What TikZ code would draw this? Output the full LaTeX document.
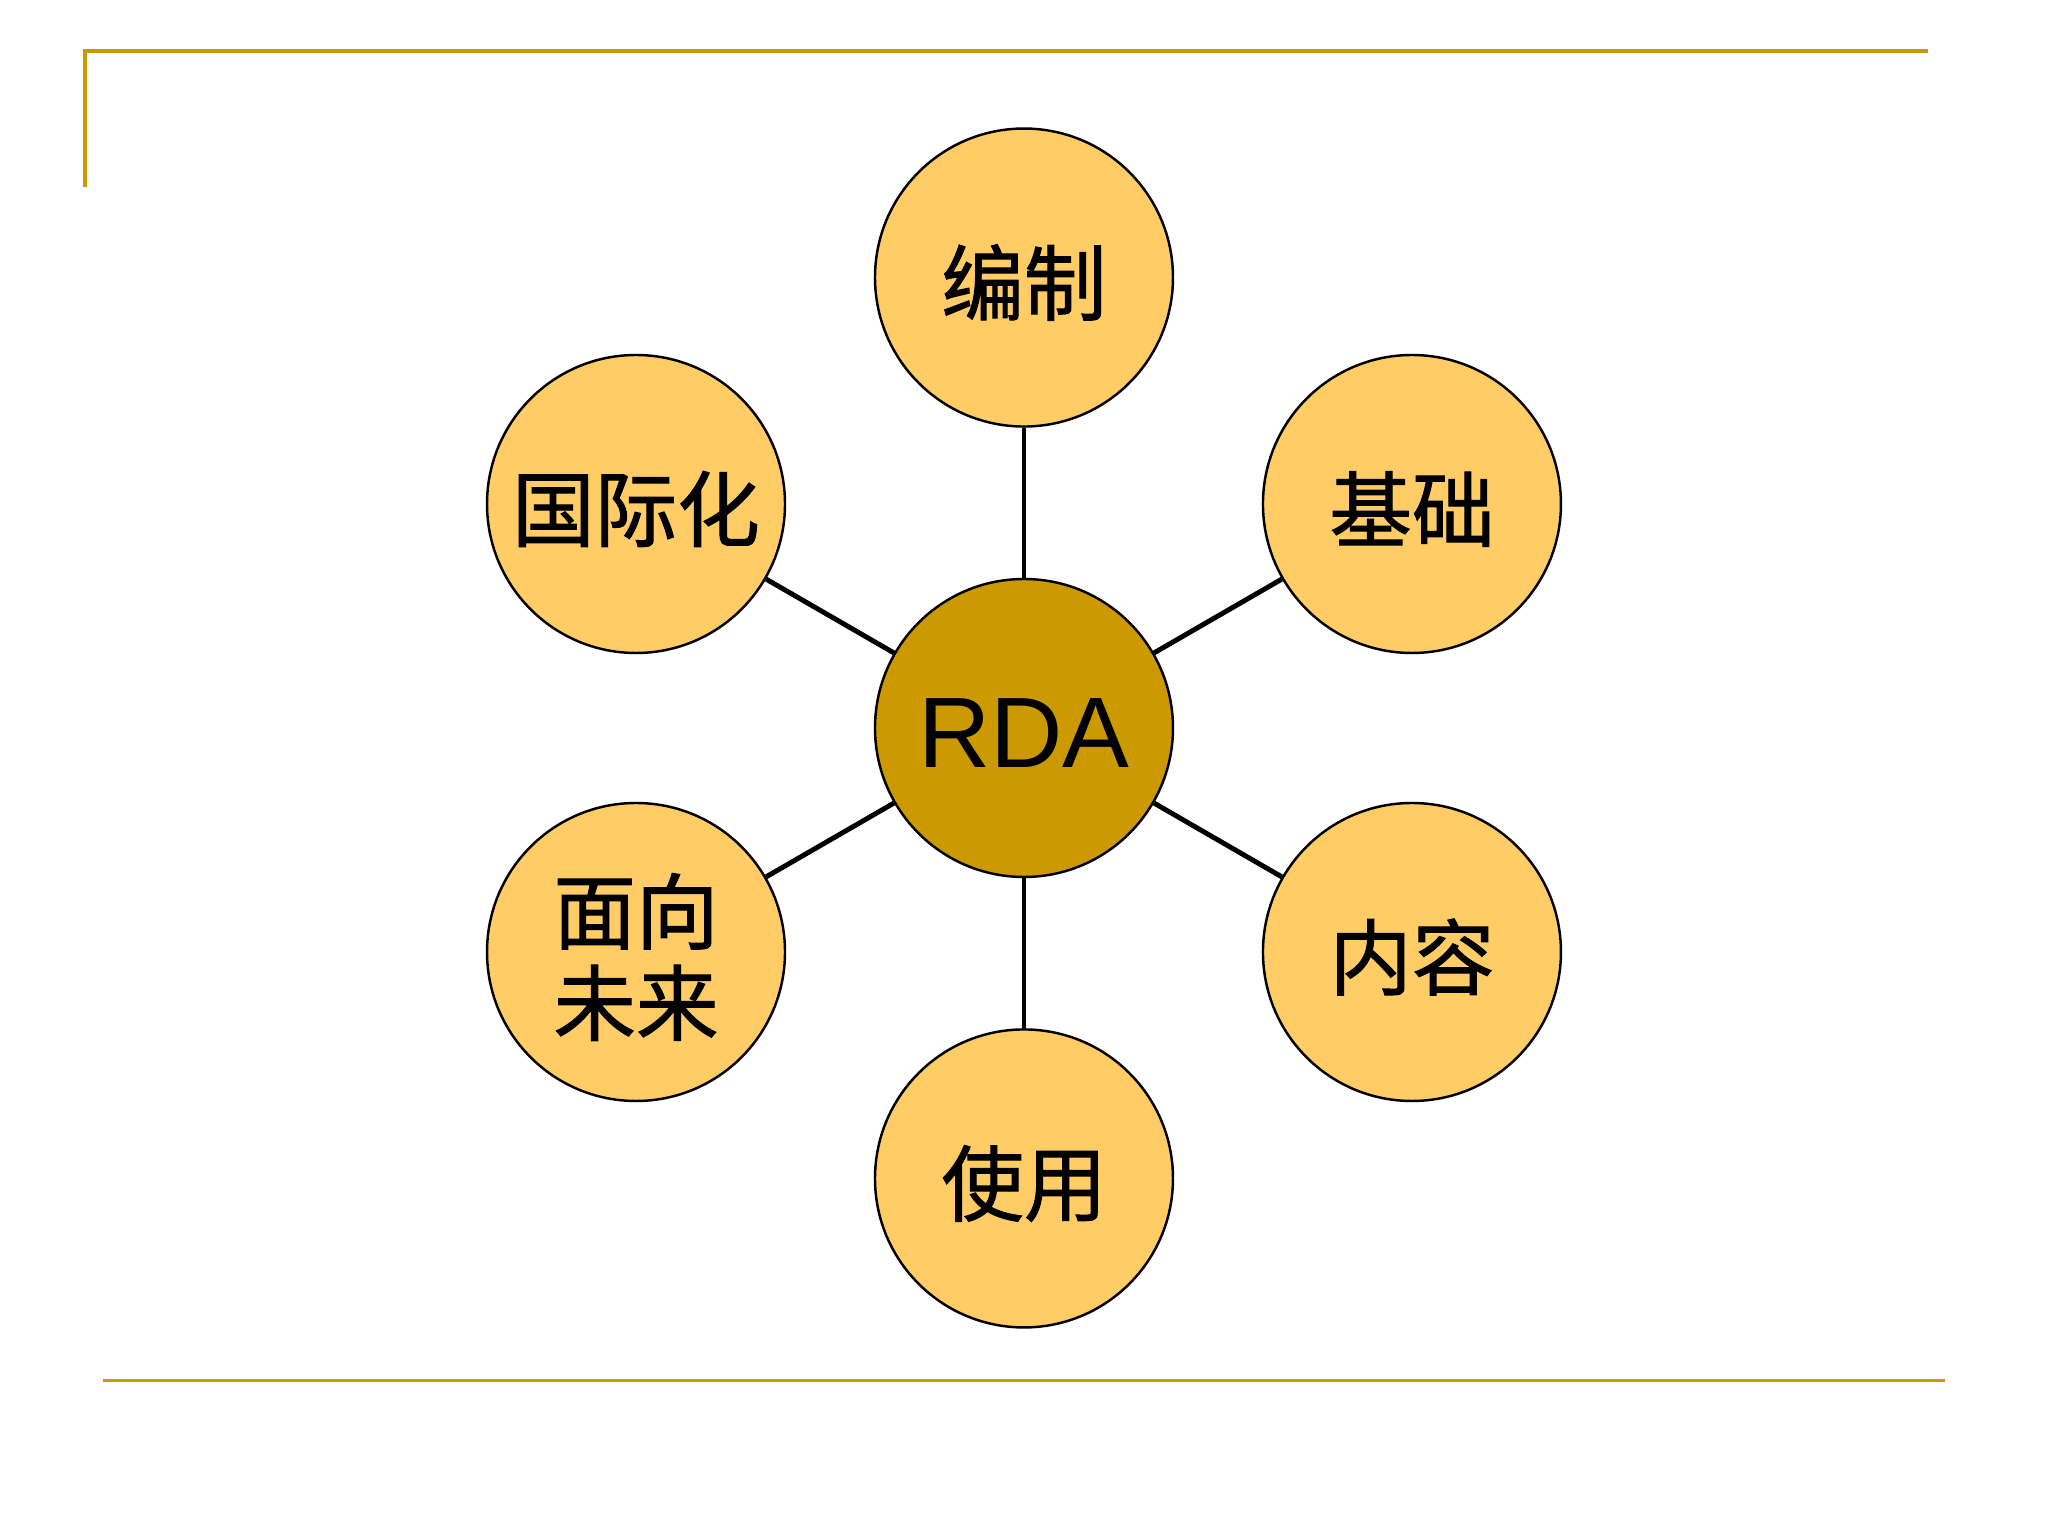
\documentclass[tikz,border=0pt]{standalone}
\usepackage{fontspec}
\setmainfont{Liberation Sans}
\newfontfamily\cjk[FakeBold=1.2]{Noto Sans CJK SC}
\usepackage{tikz}
\usetikzlibrary{positioning}
\definecolor{gold}{HTML}{CC9900}
\definecolor{lightgold}{HTML}{FFCC66}
\newcommand{\sink}[1]{\raisebox{-0.05cm}[\height][\depth]{#1}}
\tikzstyle{hub} = [circle, minimum size=2.98cm, inner sep=0pt, draw=black, line width=0.7pt, fill=gold, font=\fontsize{28.5}{32}\selectfont]
\tikzstyle{topic} = [circle, minimum size=2.98cm, inner sep=0pt, draw=black, line width=0.7pt, fill=lightgold, align=center, font=\cjk\fontsize{23.5}{26}\selectfont]
\tikzstyle{spoke} = [line width=1.4pt, black]
\tikzstyle{rule} = [line width=1.1pt, gold]

\begin{document}
\begin{tikzpicture}[node distance=1.5cm]
\useasboundingbox (-10.24,-8.08) rectangle (10.24,7.28);

% Frame lines
\draw [rule] (-9.39,5.41) -- (-9.39,6.77) -- (9.04,6.77);
\draw [rule] (-9.21,-6.525) -- (9.21,-6.525);

% Centre
\node (rda) [hub] at (0,0) {\sink{RDA}};

% Top
\node (bianzhi) [topic, above=of rda] {\sink{编制}};

% Bottom
\node (shiyong) [topic, below=of rda] {\sink{使用}};

% Right side
\node (jichu) [topic] at (30:4.48) {\sink{基础}};
\node (neirong) [topic] at (-30:4.48) {\sink{内容}};

% Left side
\node (guojihua) [topic] at (150:4.48) {\sink{国际化}};
\node (weilai) [topic] at (210:4.48) {\sink{面向}\\\sink{未来}};

% Spokes
\draw [spoke] (rda) -- (bianzhi);
\draw [spoke] (rda) -- (jichu);
\draw [spoke] (rda) -- (neirong);
\draw [spoke] (rda) -- (shiyong);
\draw [spoke] (rda) -- (weilai);
\draw [spoke] (rda) -- (guojihua);

\end{tikzpicture}
\end{document}
